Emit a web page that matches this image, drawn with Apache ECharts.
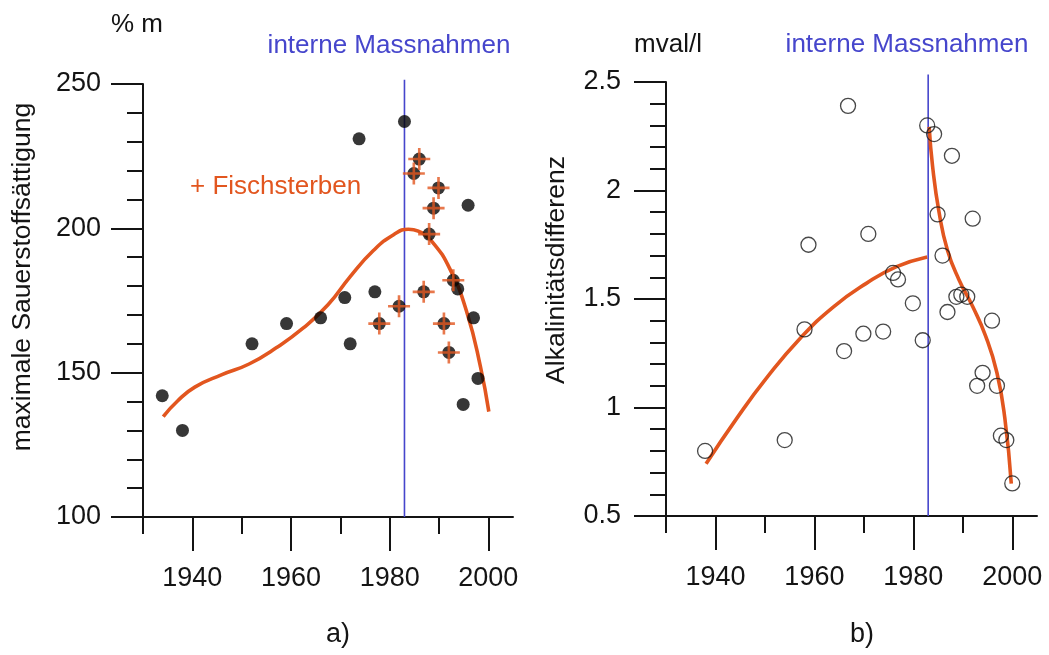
<!DOCTYPE html>
<html>
<head>
<meta charset="utf-8">
<script src="https://cdn.jsdelivr.net/npm/echarts@6/dist/echarts.min.js"></script>
<style>
html,body{margin:0;padding:0;background:#fff;}
#chart{width:1049px;height:655px;}
</style>
</head>
<body>
<div id="chart"></div>
<script>
// ---- tick values ----
const xMinorTicks = [1930, 1940, 1950, 1960, 1970, 1980, 1990, 2000];
const xMajorTicks = [1940, 1960, 1980, 2000];
const yMinorTicksA = [100, 110, 120, 130, 140, 150, 160, 170, 180, 190, 200, 210, 220, 230, 240, 250];
const yMajorTicksA = [100, 150, 200, 250];
const yMinorTicksB = [0.5, 0.6, 0.7, 0.8, 0.9, 1.0, 1.1, 1.2, 1.3, 1.4, 1.5, 1.6, 1.7, 1.8, 1.9, 2.0, 2.1, 2.2, 2.3, 2.4, 2.5];
const yMajorTicksB = [0.5, 1, 1.5, 2, 2.5];

// ---- texts ----
const unitA = '% m';
const unitB = 'mval/l';
const yNameA = 'maximale Sauerstoffsättigung';
const yNameB = 'Alkalinitätsdifferenz';
const measureLabel = 'interne Massnahmen';
const fishLabel = '+ Fischsterben';
const panelA = 'a)';
const panelB = 'b)';

// ---- data: panel a (year, max oxygen saturation %) ----
const oxygenDots = [
  [1933.9, 142], [1938.0, 130], [1952.1, 160], [1959.1, 167], [1966.0, 169],
  [1970.9, 176], [1972.0, 160], [1973.8, 231], [1977.0, 178], [1983.0, 237],
  [1995.9, 208], [1993.8, 179], [1997.0, 169], [1997.9, 148], [1994.9, 139]
];
const oxygenFishKill = [
  [1977.9, 167], [1981.9, 173], [1986.0, 224], [1984.9, 219], [1989.9, 214],
  [1988.9, 207], [1988.0, 198], [1986.9, 178], [1992.9, 182], [1991.0, 167],
  [1992.0, 157]
];
const oxygenTrend = [
  [1934.1, 134.8], [1937.0, 140.2], [1940.5, 145.0], [1946.0, 149.3], [1951.5, 153.0],
  [1957.0, 158.6], [1962.5, 165.5], [1967.5, 173.5], [1972.0, 183.3], [1976.7, 192.3],
  [1980.8, 197.8], [1983.8, 199.7], [1985.8, 199.0], [1988.5, 195.6], [1992.3, 185.6],
  [1995.7, 170.6], [1998.4, 152.1], [2000.1, 136.5]
];

// ---- data: panel b (year, alkalinity difference mval/l) ----
const alkalinity = [
  [1937.9, 0.80], [1954.0, 0.85], [1958.8, 1.75], [1958.0, 1.36], [1966.8, 2.39],
  [1966.0, 1.26], [1969.9, 1.34], [1970.9, 1.80], [1973.9, 1.35], [1975.9, 1.62],
  [1976.9, 1.59], [1979.9, 1.48], [1981.9, 1.31], [1982.8, 2.30], [1984.2, 2.26],
  [1987.8, 2.16], [1984.9, 1.89], [1992.0, 1.87], [1985.9, 1.70], [1988.7, 1.51],
  [1989.7, 1.52], [1990.9, 1.51], [1986.9, 1.44], [1995.9, 1.40], [1994.0, 1.16],
  [1992.9, 1.10], [1996.9, 1.10], [1997.7, 0.87], [1998.8, 0.85], [2000.0, 0.65]
];
const alkTrendBefore = [
  [1938.1, 0.741], [1944.3, 0.950], [1950.3, 1.135], [1957.1, 1.318], [1963.8, 1.463],
  [1970.5, 1.572], [1976.5, 1.648], [1982.8, 1.694]
];
const alkTrendAfter = [
  [1983.2, 2.293], [1983.9, 2.110], [1985.2, 1.900], [1986.9, 1.725], [1989.2, 1.590],
  [1992.0, 1.465], [1994.6, 1.330], [1996.9, 1.160], [1998.5, 0.950], [1999.8, 0.649]
];

// ---- vertical marker (year of internal measures) ----
const measureYear = 1983;
const measureLineA = [[measureYear, 100], [measureYear, 251.5]];
const measureLineB = [[measureYear, 0.5], [measureYear, 2.535]];

// ---- styles ----
const FONT = '"Liberation Sans", Arial, Helvetica, sans-serif';
const BLACK = '#141414';
const ORANGE = '#e2561f';
const BLUE = '#4646cc';
const CROSS = 'path://M0 8.8H20V11.2H0Z M8.8 0H11.2V20H8.8Z';

function plain(v) { return String(v); }

function xAxes(g) {
  return [
    { type: 'value', gridIndex: g, min: 1930, max: 2005, position: 'bottom',
      axisLine: { show: true, onZero: false, lineStyle: { color: BLACK, width: 2 } },
      axisTick: { show: true, customValues: xMinorTicks, length: 17, lineStyle: { color: BLACK, width: 2 } },
      axisLabel: { show: false }, splitLine: { show: false } },
    { type: 'value', gridIndex: g, min: 1930, max: 2005, position: 'bottom',
      axisLine: { show: false, onZero: false },
      axisTick: { show: true, customValues: xMajorTicks, length: 34, lineStyle: { color: BLACK, width: 2 } },
      axisLabel: { show: true, customValues: xMajorTicks, formatter: plain, margin: 48, fontSize: 27, color: BLACK, fontFamily: FONT },
      splitLine: { show: false } }
  ];
}
function yAxes(g, min, max, minor, major, margin) {
  return [
    { type: 'value', gridIndex: g, min: min, max: max, position: 'left',
      axisLine: { show: true, onZero: false, lineStyle: { color: BLACK, width: 2 } },
      axisTick: { show: true, customValues: minor, length: 16, lineStyle: { color: BLACK, width: 2 } },
      axisLabel: { show: false }, splitLine: { show: false } },
    { type: 'value', gridIndex: g, min: min, max: max, position: 'left',
      axisLine: { show: false, onZero: false },
      axisTick: { show: true, customValues: major, length: 32, lineStyle: { color: BLACK, width: 2 } },
      axisLabel: { show: true, customValues: major, formatter: plain, margin: margin, fontSize: 27, color: BLACK, fontFamily: FONT },
      splitLine: { show: false } }
  ];
}

function txt(x, y, text, color, opts) {
  opts = opts || {};
  return {
    type: 'text', x: x, y: y, silent: true, rotation: opts.rotation || 0,
    style: { text: text, fill: color, font: (opts.size || 26) + 'px ' + FONT,
             textAlign: opts.align || 'center', textVerticalAlign: 'middle' }
  };
}

const chart = echarts.init(document.getElementById('chart'), null, { renderer: 'canvas' });
chart.setOption({
  animation: false,
  backgroundColor: '#ffffff',
  grid: [
    { left: 143, top: 84, width: 370, height: 433 },
    { left: 666, top: 82, width: 371, height: 434 }
  ],
  xAxis: [].concat(xAxes(0), xAxes(1)),
  yAxis: [].concat(
    yAxes(0, 100, 250, yMinorTicksA, yMajorTicksA, 42),
    yAxes(1, 0.5, 2.5, yMinorTicksB, yMajorTicksB, 45)
  ),
  series: [
    // panel a
    { type: 'line', xAxisIndex: 0, yAxisIndex: 0, data: measureLineA, clip: false, symbol: 'none',
      lineStyle: { color: BLUE, width: 1.6 }, z: 1, silent: true },
    { type: 'line', xAxisIndex: 0, yAxisIndex: 0, data: oxygenTrend, smooth: 0.5, symbol: 'none',
      lineStyle: { color: ORANGE, width: 3.6 }, z: 2, silent: true },
    { type: 'scatter', xAxisIndex: 0, yAxisIndex: 0, data: oxygenDots, symbol: 'circle', symbolSize: 13,
      itemStyle: { color: '#050505' }, z: 3, silent: true },
    { type: 'scatter', xAxisIndex: 0, yAxisIndex: 0, data: oxygenFishKill, symbol: 'circle', symbolSize: 13,
      itemStyle: { color: '#050505' }, z: 3, silent: true },
    { type: 'scatter', xAxisIndex: 0, yAxisIndex: 0, data: oxygenFishKill, symbol: CROSS, symbolSize: 22,
      itemStyle: { color: ORANGE }, z: 4, silent: true },
    // panel b
    { type: 'line', xAxisIndex: 2, yAxisIndex: 2, data: measureLineB, clip: false, symbol: 'none',
      lineStyle: { color: BLUE, width: 1.6 }, z: 1, silent: true },
    { type: 'line', xAxisIndex: 2, yAxisIndex: 2, data: alkTrendBefore, smooth: 0.5, symbol: 'none',
      lineStyle: { color: ORANGE, width: 3.6 }, z: 2, silent: true },
    { type: 'line', xAxisIndex: 2, yAxisIndex: 2, data: alkTrendAfter, smooth: 0.5, symbol: 'none',
      lineStyle: { color: ORANGE, width: 3.6 }, z: 2, silent: true },
    { type: 'scatter', xAxisIndex: 2, yAxisIndex: 2, data: alkalinity, symbol: 'circle', symbolSize: 15,
      itemStyle: { color: 'rgba(0,0,0,0)', borderColor: '#1a1a1a', borderWidth: 1.3 }, z: 3, silent: true }
  ],
  graphic: [
    txt(137, 25, unitA, BLACK),
    txt(389, 46, measureLabel, BLUE),
    txt(668, 45, unitB, BLACK),
    txt(907, 45, measureLabel, BLUE),
    txt(190, 187, fishLabel, ORANGE, { align: 'left' }),
    txt(23, 277, yNameA, BLACK, { rotation: Math.PI / 2, size: 26.5 }),
    txt(557, 270, yNameB, BLACK, { rotation: Math.PI / 2, size: 26.5 }),
    txt(338, 635, panelA, BLACK, { size: 27 }),
    txt(862, 635, panelB, BLACK, { size: 27 })
  ]
});
</script>
</body>
</html>
